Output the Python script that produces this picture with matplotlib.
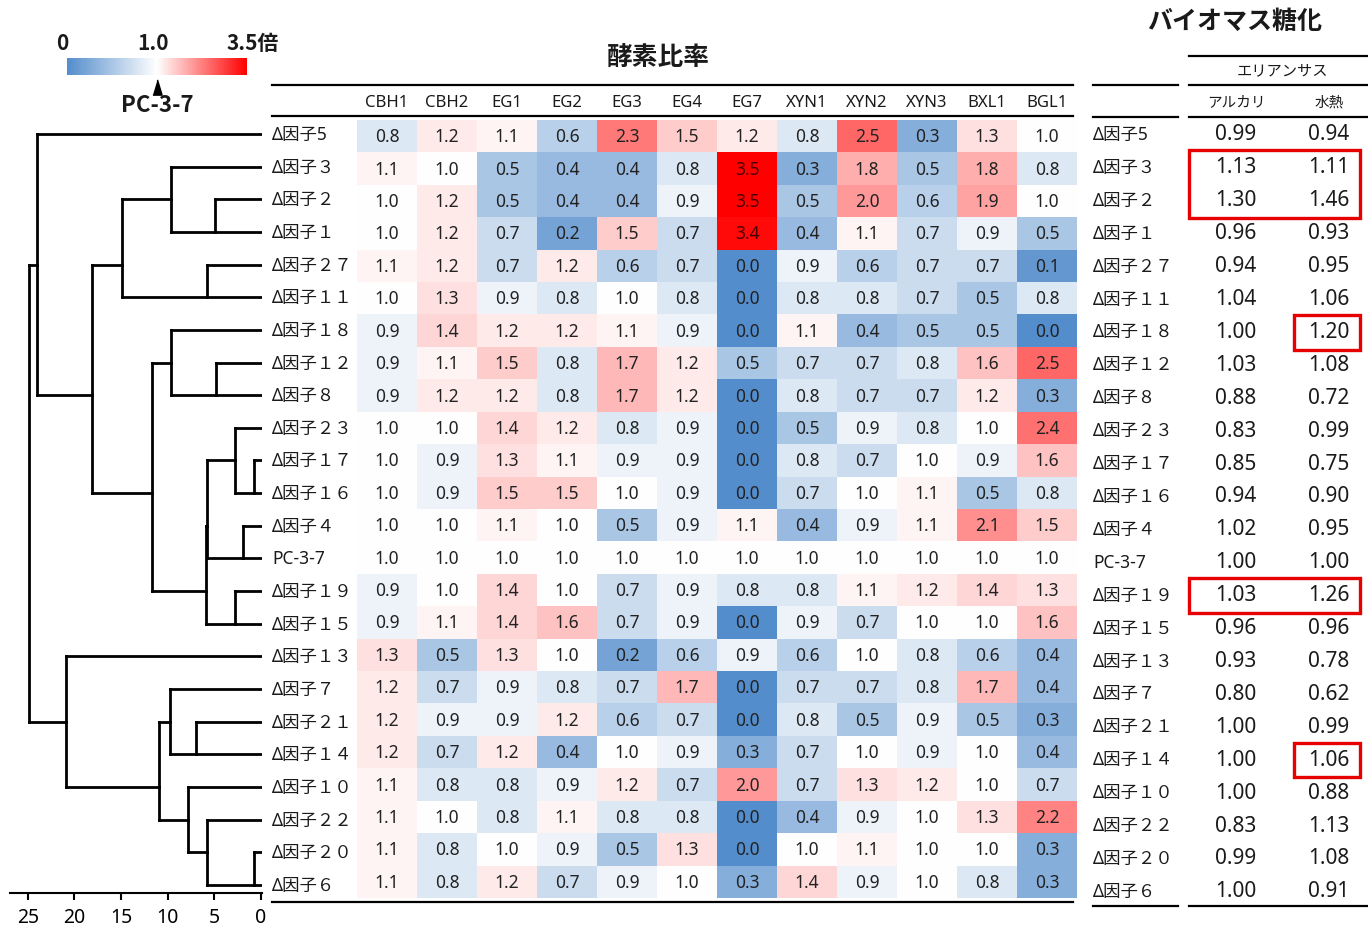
import numpy as np
import matplotlib
matplotlib.use("Agg")
import matplotlib.pyplot as plt
import matplotlib.cm as cm
from matplotlib.colors import LinearSegmentedColormap, TwoSlopeNorm
from matplotlib.lines import Line2D
from matplotlib.patches import Rectangle
from matplotlib.transforms import blended_transform_factory as blend

# Latin/digits from Noto Sans, Japanese falls through to the CJK family
plt.rcParams["font.family"] = ["Noto Sans", "Noto Sans CJK JP", "DejaVu Sans"]
plt.rcParams["text.color"] = "#1a1a1a"
BOLD_FAMILY = ["Noto Sans CJK JP", "DejaVu Sans"]

W, H = 1368, 929

# ── data ──
ROW_LABELS = ["Δ因子5", "Δ因子３", "Δ因子２", "Δ因子１", "Δ因子２７", "Δ因子１１",
              "Δ因子１８", "Δ因子１２", "Δ因子８", "Δ因子２３", "Δ因子１７", "Δ因子１６",
              "Δ因子４", "PC-3-7", "Δ因子１９", "Δ因子１５", "Δ因子１３", "Δ因子７",
              "Δ因子２１", "Δ因子１４", "Δ因子１０", "Δ因子２２", "Δ因子２０", "Δ因子６"]
ENZYMES = ["CBH1", "CBH2", "EG1", "EG2", "EG3", "EG4", "EG7",
           "XYN1", "XYN2", "XYN3", "BXL1", "BGL1"]
RATIO = [
    [0.8, 1.2, 1.1, 0.6, 2.3, 1.5, 1.2, 0.8, 2.5, 0.3, 1.3, 1.0],
    [1.1, 1.0, 0.5, 0.4, 0.4, 0.8, 3.5, 0.3, 1.8, 0.5, 1.8, 0.8],
    [1.0, 1.2, 0.5, 0.4, 0.4, 0.9, 3.5, 0.5, 2.0, 0.6, 1.9, 1.0],
    [1.0, 1.2, 0.7, 0.2, 1.5, 0.7, 3.4, 0.4, 1.1, 0.7, 0.9, 0.5],
    [1.1, 1.2, 0.7, 1.2, 0.6, 0.7, 0.0, 0.9, 0.6, 0.7, 0.7, 0.1],
    [1.0, 1.3, 0.9, 0.8, 1.0, 0.8, 0.0, 0.8, 0.8, 0.7, 0.5, 0.8],
    [0.9, 1.4, 1.2, 1.2, 1.1, 0.9, 0.0, 1.1, 0.4, 0.5, 0.5, 0.0],
    [0.9, 1.1, 1.5, 0.8, 1.7, 1.2, 0.5, 0.7, 0.7, 0.8, 1.6, 2.5],
    [0.9, 1.2, 1.2, 0.8, 1.7, 1.2, 0.0, 0.8, 0.7, 0.7, 1.2, 0.3],
    [1.0, 1.0, 1.4, 1.2, 0.8, 0.9, 0.0, 0.5, 0.9, 0.8, 1.0, 2.4],
    [1.0, 0.9, 1.3, 1.1, 0.9, 0.9, 0.0, 0.8, 0.7, 1.0, 0.9, 1.6],
    [1.0, 0.9, 1.5, 1.5, 1.0, 0.9, 0.0, 0.7, 1.0, 1.1, 0.5, 0.8],
    [1.0, 1.0, 1.1, 1.0, 0.5, 0.9, 1.1, 0.4, 0.9, 1.1, 2.1, 1.5],
    [1.0, 1.0, 1.0, 1.0, 1.0, 1.0, 1.0, 1.0, 1.0, 1.0, 1.0, 1.0],
    [0.9, 1.0, 1.4, 1.0, 0.7, 0.9, 0.8, 0.8, 1.1, 1.2, 1.4, 1.3],
    [0.9, 1.1, 1.4, 1.6, 0.7, 0.9, 0.0, 0.9, 0.7, 1.0, 1.0, 1.6],
    [1.3, 0.5, 1.3, 1.0, 0.2, 0.6, 0.9, 0.6, 1.0, 0.8, 0.6, 0.4],
    [1.2, 0.7, 0.9, 0.8, 0.7, 1.7, 0.0, 0.7, 0.7, 0.8, 1.7, 0.4],
    [1.2, 0.9, 0.9, 1.2, 0.6, 0.7, 0.0, 0.8, 0.5, 0.9, 0.5, 0.3],
    [1.2, 0.7, 1.2, 0.4, 1.0, 0.9, 0.3, 0.7, 1.0, 0.9, 1.0, 0.4],
    [1.1, 0.8, 0.8, 0.9, 1.2, 0.7, 2.0, 0.7, 1.3, 1.2, 1.0, 0.7],
    [1.1, 1.0, 0.8, 1.1, 0.8, 0.8, 0.0, 0.4, 0.9, 1.0, 1.3, 2.2],
    [1.1, 0.8, 1.0, 0.9, 0.5, 1.3, 0.0, 1.0, 1.1, 1.0, 1.0, 0.3],
    [1.1, 0.8, 1.2, 0.7, 0.9, 1.0, 0.3, 1.4, 0.9, 1.0, 0.8, 0.3],
]
ALKALI = [0.99, 1.13, 1.30, 0.96, 0.94, 1.04, 1.00, 1.03, 0.88, 0.83, 0.85, 0.94,
          1.02, 1.00, 1.03, 0.96, 0.93, 0.80, 1.00, 1.00, 1.00, 0.83, 0.99, 1.00]
HYDRO = [0.94, 1.11, 1.46, 0.93, 0.95, 1.06, 1.20, 1.08, 0.72, 0.99, 0.75, 0.90,
         0.95, 1.00, 1.26, 0.96, 0.78, 0.62, 0.99, 1.06, 0.88, 1.13, 1.08, 0.91]
# (child a, child b, height); leaves 0..23 in display order, merged nodes 24, 25, ...
MERGES = [
    (10, 11, 0.75), (22, 23, 0.75), (12, 13, 1.9), (9, 24, 2.8), (14, 15, 2.8),
    (2, 3, 4.9), (7, 8, 4.8), (4, 5, 5.8), (27, 26, 5.8), (32, 28, 5.85),
    (21, 25, 5.8), (18, 19, 7.0), (20, 34, 7.8), (1, 29, 9.7), (6, 30, 9.7),
    (17, 35, 9.8), (39, 36, 10.9), (38, 33, 11.7), (37, 31, 14.9), (42, 41, 18.1),
    (16, 40, 20.9), (0, 43, 24.0), (45, 44, 24.9),
]
DIST_TICKS = [25, 20, 15, 10, 5, 0]
# highlighted rows in the saccharification table: (first row, last row, columns)
HILITE = [(1, 2, "both"), (6, 6, "hydro"), (14, 14, "both"), (19, 19, "hydro")]

BLUE, RED = "#548dcc", "#ff0000"
LW = 2.0


def px_axes(fig, x0, y0, x1, y1):
    return fig.add_axes([x0 / W, 1 - y1 / H, (x1 - x0) / W, (y1 - y0) / H])


def hline(fig, x0, x1, y, lw=1.6):
    fig.add_artist(Line2D([x0 / W, x1 / W], [1 - y / H] * 2, color="black",
                          lw=lw, transform=fig.transFigure))


fig = plt.figure(figsize=(W / 100, H / 100), dpi=100)

# ── dendrogram ──
ax_d = px_axes(fig, 10, 119, 262, 894)
n = len(ROW_LABELS)
pos = {i: (float(i), 0.0) for i in range(n)}
for k, (a, b, h) in enumerate(MERGES):
    ya, ha = pos[a]
    yb, hb = pos[b]
    kw = dict(color="black", lw=LW, solid_capstyle="projecting")
    ax_d.plot([ha, h], [ya, ya], **kw)
    ax_d.plot([hb, h], [yb, yb], **kw)
    ax_d.plot([h, h], [ya, yb], **kw)
    pos[n + k] = (float(np.floor((ya + yb) / 2 + 0.5)), h)
ax_d.set_xlim(26.9, -0.1)
ax_d.set_ylim(23.25, -0.49)
for s in ("top", "right", "left"):
    ax_d.spines[s].set_visible(False)
ax_d.spines["bottom"].set_linewidth(1.5)
ax_d.set_yticks([])
ax_d.set_xticks(DIST_TICKS)
ax_d.tick_params(axis="x", direction="out", length=5, width=1.5, labelsize=14, pad=5)
lab_tr = blend(fig.transFigure, ax_d.transData)
for i, lab in enumerate(ROW_LABELS):
    ax_d.text(272 / W, i, lab, transform=lab_tr, ha="left", va="center", fontsize=12.5)

# ── heatmap ──
cmap = LinearSegmentedColormap.from_list("pc_ratio", [BLUE, "#ffffff", RED])
norm = TwoSlopeNorm(vmin=0, vcenter=1.0, vmax=3.5)
data = np.array(RATIO)
ax_h = px_axes(fig, 357, 121, 1077, 899)
ax_h.imshow(data, cmap=cmap, norm=norm, aspect="auto", interpolation="nearest")
for i in range(data.shape[0]):
    for j in range(data.shape[1]):
        v = data[i, j]
        ax_h.text(j, i, f"{v:.1f}", ha="center", va="center", fontsize=12.5,
                  color="#4a0000" if v >= 3 else "#222222")
ax_h.axis("off")
hdr_tr = blend(ax_h.transData, fig.transFigure)
for j, e in enumerate(ENZYMES):
    ax_h.text(j, 1 - 103 / H, e, transform=hdr_tr, ha="center", va="center", fontsize=12)
fig.text(658 / W, 1 - 58 / H, "酵素比率", ha="center", va="center",
         fontsize=18.5, fontweight="bold")
hline(fig, 272, 1073, 86)
hline(fig, 272, 1073, 117)
hline(fig, 272, 1073, 903)

# ── colour scale ──
cax = px_axes(fig, 67, 59, 247, 76)
cb = fig.colorbar(cm.ScalarMappable(norm=norm, cmap=cmap), cax=cax, orientation="horizontal")
cb.outline.set_visible(False)
cb.set_ticks([])
ctr = blend(cax.transData, cax.transAxes)
for val, txt, dx in [(0, "0", -3.5), (1.0, "1.0", -3), (3.5, "3.5倍", 4)]:
    cax.annotate(txt, xy=(val, 1), xycoords=ctr, xytext=(dx, 11), textcoords="offset points",
                 ha="center", va="center", fontsize=15, fontweight="bold",
                 family=BOLD_FAMILY)
cax.plot([1.0], [-0.68], marker=[(-0.6, -1), (0.6, -1), (0, 1)], ms=11, color="black",
         transform=ctr, clip_on=False)
cax.text(1.0, -1.72, "PC-3-7", transform=ctr, ha="center", va="center", fontsize=16,
         fontweight="bold", family=BOLD_FAMILY)

# ── saccharification table ──
ax_r = px_axes(fig, 1080, 119, 1368, 907)
ax_r.set_xlim(1080, 1368)
ax_r.set_ylim(23.46, -0.486)
ax_r.axis("off")
for i, lab in enumerate(ROW_LABELS):
    ax_r.text(1093, i, lab, ha="left", va="center", fontsize=12.5)
    ax_r.text(1236, i, f"{ALKALI[i]:.2f}", ha="center", va="center", fontsize=15)
    ax_r.text(1329, i, f"{HYDRO[i]:.2f}", ha="center", va="center", fontsize=15)
for r0, r1, which in HILITE:
    x0 = 1189 if which == "both" else 1294
    ax_r.add_patch(Rectangle((x0, r0 - 0.5), 1360 - x0, r1 - r0 + 1.05, fill=False,
                             edgecolor="#e60000", lw=2.4, clip_on=False))
fig.text(1235 / W, 1 - 22 / H, "バイオマス糖化", ha="center", va="center",
         fontsize=18, fontweight="bold")
fig.text(1282 / W, 1 - 72 / H, "エリアンサス", ha="center", va="center", fontsize=11)
fig.text(1236 / W, 1 - 103 / H, "アルカリ", ha="center", va="center", fontsize=10.5)
fig.text(1329 / W, 1 - 103 / H, "水熱", ha="center", va="center", fontsize=10.5)
hline(fig, 1189, 1368, 57)
hline(fig, 1189, 1368, 86)
hline(fig, 1189, 1368, 118)
hline(fig, 1189, 1368, 907)
hline(fig, 1093, 1178, 86)
hline(fig, 1093, 1178, 118)
hline(fig, 1093, 1178, 907)

fig.savefig("out.png", dpi=100, facecolor="white")
